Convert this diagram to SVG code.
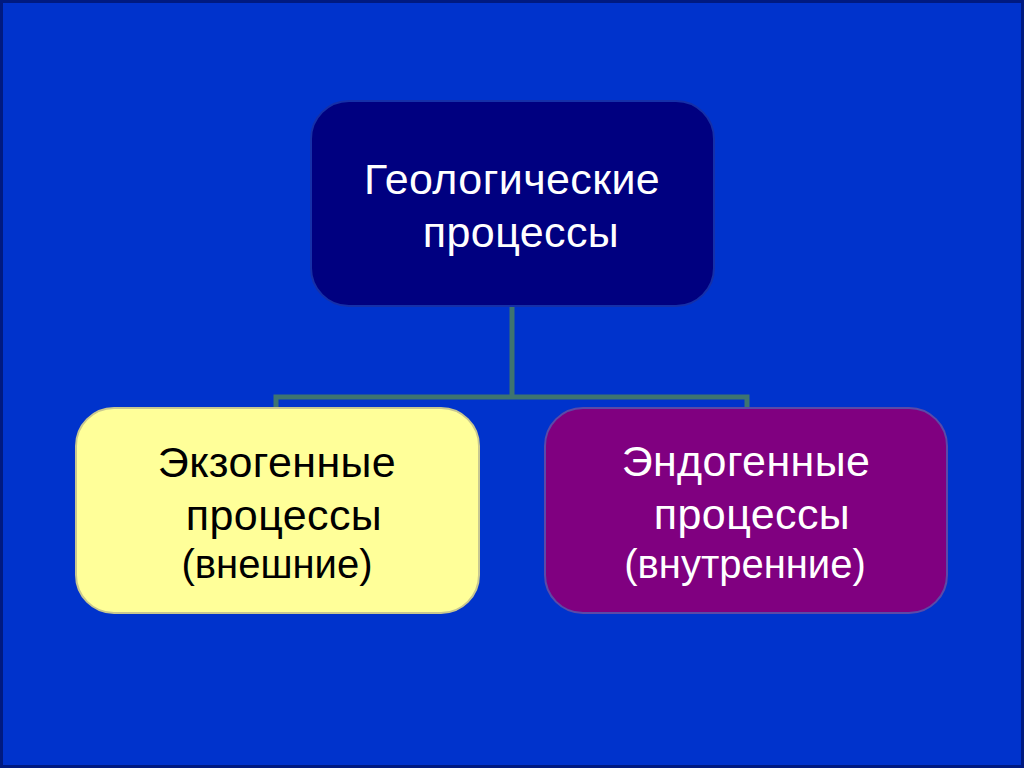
<svg xmlns="http://www.w3.org/2000/svg" width="1024" height="768" viewBox="0 0 1024 768">
<style>
.t{font-family:"Liberation Sans",Arial,sans-serif;text-anchor:middle}
.w{fill:#FFFFFF}
.k{fill:#000000}
.big{font-size:43px;letter-spacing:0.4px}
.sm{font-size:40px}
.conn{fill:none;stroke:#3E7470;stroke-width:5}
</style>
<rect x="0" y="0" width="1024" height="768" fill="#0033CC"/>
<rect x="1.5" y="1.5" width="1021" height="765" fill="none" stroke="#001A80" stroke-width="3"/>
<g id="connectors">
<path class="conn" d="M512 306 V397"/>
<path class="conn" d="M276 408 V397 H747 V408"/>
</g>
<g id="node-geo">
<rect x="311" y="101" width="403" height="205" rx="38" fill="#000080" stroke="#1530A8" stroke-width="2"/>
<text class="t w big" x="512" y="194">Геологические</text>
<text class="t w big" x="521" y="247">процессы</text>
</g>
<g id="node-exo">
<rect x="76" y="408" width="403" height="205" rx="38" fill="#FFFF99" stroke="#C8C890" stroke-width="2"/>
<text class="t k big" x="277" y="477">Экзогенные</text>
<text class="t k big" x="284" y="530">процессы</text>
<text class="t k sm" x="277" y="578">(внешние)</text>
</g>
<g id="node-endo">
<rect x="545" y="408" width="402" height="205" rx="38" fill="#800080" stroke="#5A4AA8" stroke-width="2"/>
<text class="t w big" x="746" y="476">Эндогенные</text>
<text class="t w big" x="752" y="529">процессы</text>
<text class="t w sm" x="745" y="578">(внутренние)</text>
</g>
</svg>
